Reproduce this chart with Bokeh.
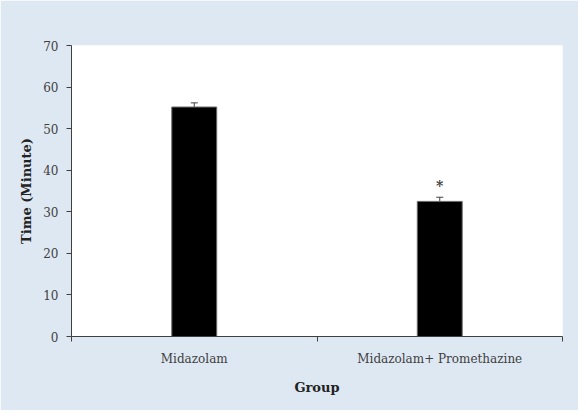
from bokeh.plotting import figure
from bokeh.models import Range1d, FixedTicker, Whisker, TeeHead, ColumnDataSource
from bokeh.core.properties import value
from bokeh.embed import file_html
from bokeh.resources import INLINE

# ---- data ----
groups = ["Midazolam", "Midazolam+ Promethazine"]
means = [55.2, 32.5]
errors = [1.0, 1.0]
significance = ["", "*"]
y_ticks = [0, 10, 20, 30, 40, 50, 60, 70]

xs = [i + 0.5 for i in range(len(groups))]
src = ColumnDataSource(dict(
    x=xs,
    top=means,
    upper=[m + e for m, e in zip(means, errors)],
    star_y=[m + e + 2.8 for m, e in zip(means, errors)],
    star=significance,
))

FONT = "DejaVu Serif"
TXT = "#404040"

p = figure(width=578, height=410, output_backend="svg", toolbar_location=None,
           x_range=Range1d(0, len(groups)), y_range=Range1d(0, 70),
           min_border_left=71, min_border_right=16, min_border_top=45,
           min_border_bottom=74)
p.background_fill_color = "white"
p.border_fill_color = "#dee8f3"
p.outline_line_color = None
p.grid.visible = False

p.vbar(x="x", top="top", width=0.183, source=src, fill_color="black",
       line_color="#6a6a6a", line_width=1)
p.add_layout(Whisker(source=src, base="x", lower="top", upper="upper",
                     line_color="#404040", line_width=1,
                     upper_head=TeeHead(size=7, line_color="#404040", line_width=1),
                     lower_head=None))
p.text(x="x", y="star_y", text="star", source=src, text_align="center",
       text_baseline="middle", text_font=value(FONT), text_font_size="14px",
       text_font_style="bold", text_color="#404040")

# x axis: labels at category centres, tick marks at category boundaries
xa = p.xaxis[0]
xa.ticker = FixedTicker(ticks=xs, minor_ticks=list(range(len(groups) + 1)))
xa.major_label_overrides = {x: g for x, g in zip(xs, groups)}
xa.major_tick_out = 0
xa.major_tick_in = 0
xa.minor_tick_out = 5
xa.minor_tick_in = 0
xa.minor_tick_line_color = TXT
xa.axis_line_color = TXT
xa.major_label_text_font = FONT
xa.major_label_text_font_size = "12px"
xa.major_label_text_color = TXT
xa.major_label_standoff = 10
xa.axis_label = "Group"
xa.axis_label_text_font = FONT
xa.axis_label_text_font_style = "bold"
xa.axis_label_text_font_size = "13px"
xa.axis_label_text_color = "#222222"
xa.axis_label_standoff = 11

ya = p.yaxis[0]
ya.ticker = FixedTicker(ticks=y_ticks, minor_ticks=[])
ya.major_tick_out = 5
ya.major_tick_in = 0
ya.major_tick_line_color = TXT
ya.axis_line_color = TXT
ya.major_label_text_font = FONT
ya.major_label_text_font_size = "12px"
ya.major_label_text_color = TXT
ya.major_label_standoff = 8
ya.axis_label = "Time (Minute)"
ya.axis_label_text_font = FONT
ya.axis_label_text_font_style = "bold"
ya.axis_label_text_font_size = "13px"
ya.axis_label_text_color = "#222222"
ya.axis_label_standoff = 6

open("out.html", "w").write(file_html(p, INLINE))
